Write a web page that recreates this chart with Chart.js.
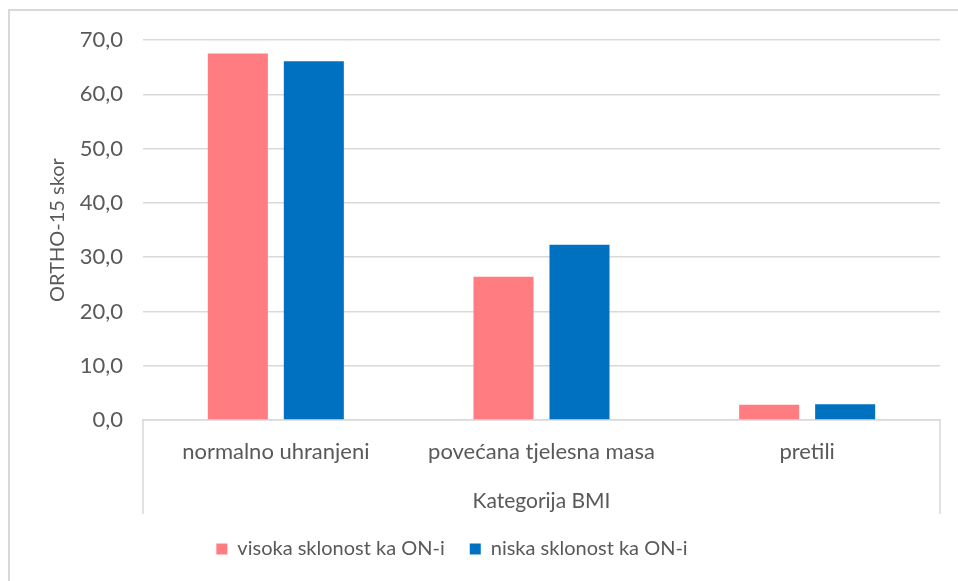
<!DOCTYPE html>
<html>
<head>
<meta charset="utf-8">
<script src="https://cdn.jsdelivr.net/npm/chart.js@4/dist/chart.umd.min.js"></script>
<style>
  html, body { margin: 0; padding: 0; background: #fff; }
  #wrap { width: 958px; height: 581px; position: relative; }
</style>
</head>
<body>
<div id="wrap"><canvas id="chartBmi" width="958" height="581"></canvas></div>
<script>
"use strict";

// data
const categories = ['normalno uhranjeni', 'povećana tjelesna masa', 'pretili'];
const visokaValues = [67.5, 26.4, 2.8];
const niskaValues = [66.1, 32.3, 2.9];
const seriesNames = ['visoka sklonost ka ON-i', 'niska sklonost ka ON-i'];
const yTicks = [0, 10, 20, 30, 40, 50, 60, 70];
const yTitle = 'ORTHO-15 skor';

const textColor = '#595959';
const lineColor = '#d9d9d9';
const font = 'Lato, "Open Sans", sans-serif';
const fontSize = 22;

//--------------------------------frame plugin---------------------------------
const framePlugin = {
    id: 'frame',
    afterDraw(chart) {
        const ctx = chart.ctx;
        const area = chart.chartArea;
        const xScale = chart.scales.x;
        ctx.save();
        ctx.strokeStyle = lineColor;
        ctx.lineWidth = 2;
        // outer border (left + top)
        ctx.beginPath();
        ctx.moveTo(9, chart.height);
        ctx.lineTo(9, 10);
        ctx.lineTo(chart.width, 10);
        ctx.stroke();
        // category box under the plot
        ctx.lineWidth = 1.5;
        ctx.beginPath();
        ctx.moveTo(area.left, area.bottom);
        ctx.lineTo(area.left, xScale.bottom);
        ctx.moveTo(area.right, area.bottom);
        ctx.lineTo(area.right, xScale.bottom);
        ctx.stroke();
        // y axis title
        ctx.translate(58, (area.top + area.bottom) / 2);
        ctx.rotate(-Math.PI / 2);
        ctx.fillStyle = textColor;
        ctx.font = (fontSize - 2) + 'px ' + font;
        ctx.textAlign = 'center';
        ctx.textBaseline = 'middle';
        ctx.fillText(yTitle, 0, 0);
        ctx.restore();
    }
};

//--------------------------------bar chart---------------------------------
const ctx = document.getElementById('chartBmi').getContext('2d');
const chartBmi = new Chart(ctx, {
    type: 'bar',
    data: {
        labels: categories,
        datasets: [{
            label: seriesNames[0],
            data: visokaValues,
            backgroundColor: '#FF7C80'
        }, {
            label: seriesNames[1],
            data: niskaValues,
            backgroundColor: '#0070C0'
        }]
    },
    options: {
        responsive: false,
        animation: false,
        categoryPercentage: 0.572,
        barPercentage: 0.79,
        layout: {
            padding: { left: 9, top: 40, right: 18, bottom: 12 }
        },
        scales: {
            x: {
                grid: { display: false, drawTicks: false },
                border: { color: lineColor, width: 1.5 },
                ticks: {
                    color: textColor,
                    font: { family: font, size: fontSize },
                    padding: 19
                },
                title: {
                    display: true,
                    text: 'Kategorija BMI',
                    color: textColor,
                    font: { family: font, size: fontSize - 1 },
                    padding: { top: 7, bottom: 0 }
                },
                afterFit(scale) {
                    scale.height = 94;
                }
            },
            y: {
                min: 0,
                max: 70,
                afterBuildTicks(scale) {
                    scale.ticks = yTicks.map(v => ({ value: v }));
                },
                grid: { color: lineColor, lineWidth: 1.5, drawTicks: false },
                border: { display: false },
                ticks: {
                    color: textColor,
                    font: { family: font, size: fontSize },
                    padding: 20,
                    callback: v => v.toFixed(1).replace('.', ',')
                },
                afterFit(scale) {
                    scale.width = 134;
                }
            }
        },
        plugins: {
            legend: {
                position: 'bottom',
                labels: {
                    color: textColor,
                    font: { family: font, size: 20 },
                    boxWidth: 11,
                    boxHeight: 11,
                    padding: 25,
                    generateLabels(chart) {
                        const items = Chart.defaults.plugins.legend.labels.generateLabels(chart);
                        // nudge the legend block left, like the original
                        items[items.length - 1].text += '\u2003\u2003\u2003';
                        return items;
                    }
                }
            },
            tooltip: { enabled: false }
        }
    },
    plugins: [framePlugin]
});
</script>
</body>
</html>
